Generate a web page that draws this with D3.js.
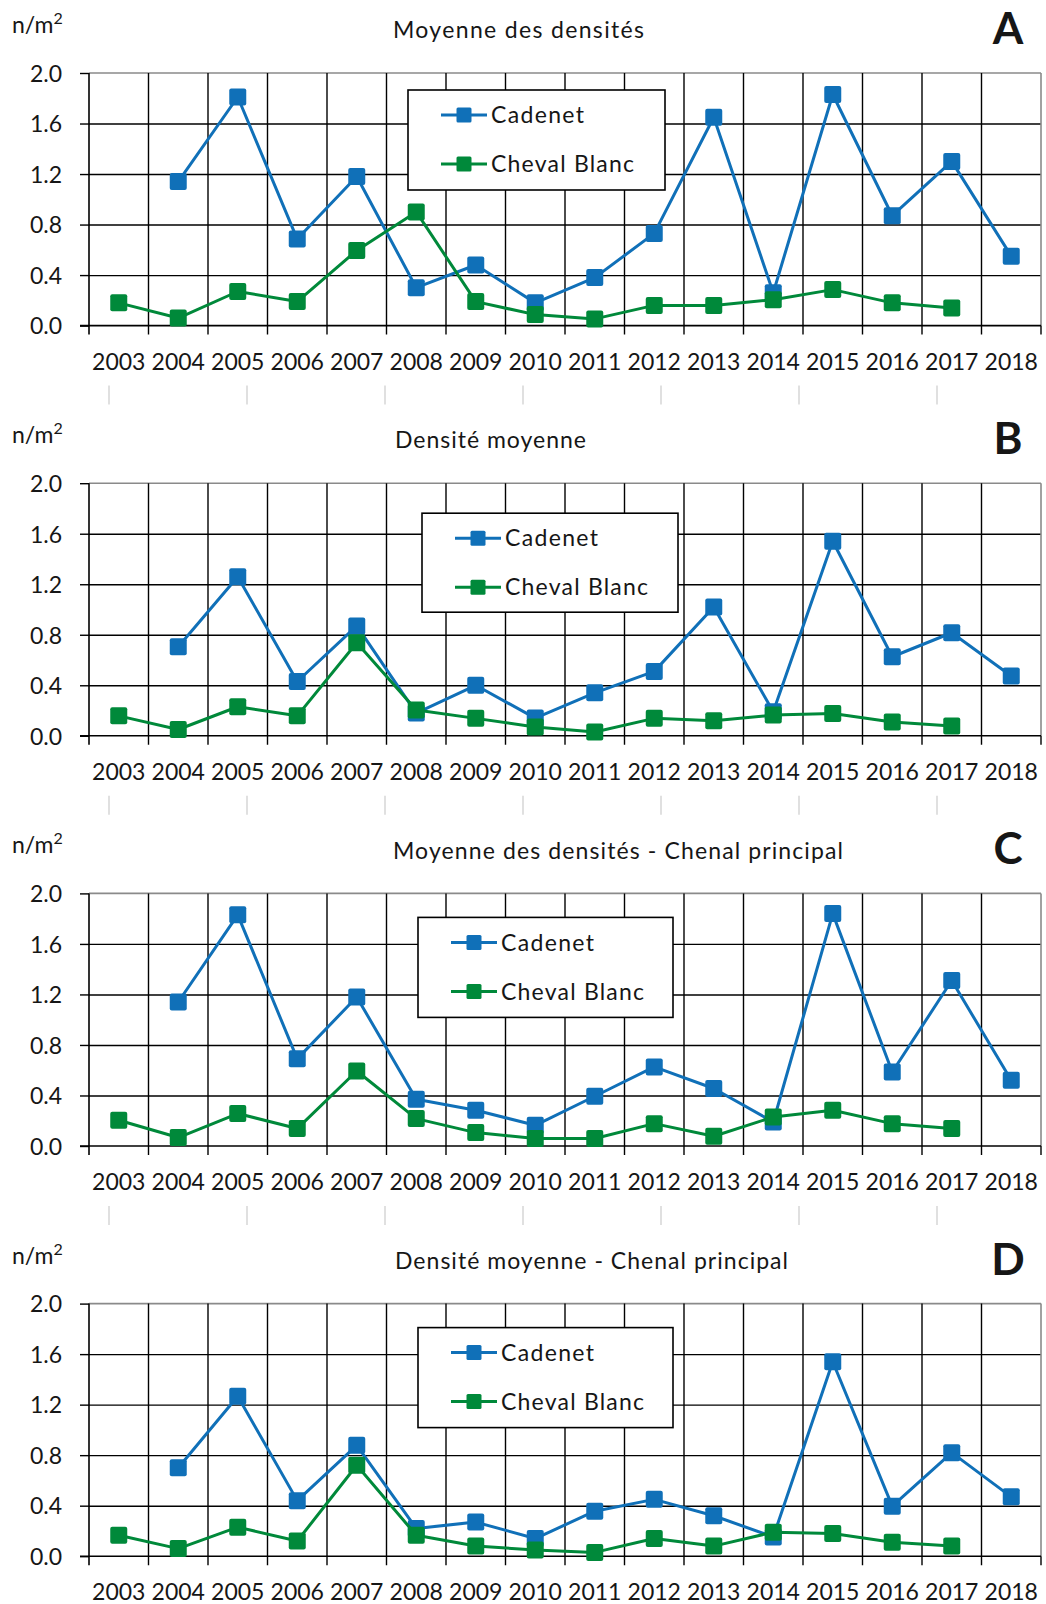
<!DOCTYPE html>
<html>
<head>
<meta charset="utf-8">
<script src="https://cdn.jsdelivr.net/npm/d3@7"></script>
<style>
  html, body { margin: 0; padding: 0; background: #fff; }
  svg { display: block; }
  text { font-family: Lato, "Open Sans", sans-serif; fill: #161616; }
</style>
</head>
<body>
<svg id="chart" width="1046" height="1604"></svg>
<script>
// Sampling years (x categories)
const years = ["2003","2004","2005","2006","2007","2008","2009","2010",
               "2011","2012","2013","2014","2015","2016","2017","2018"];

// Y axis ticks (n/m²)
const yTicks = [0, 0.4, 0.8, 1.2, 1.6, 2.0];

// Series names
const seriesNames = ["Cadenet", "Cheval Blanc"];

// A — Moyenne des densités
const cadenetA = [null, 1.14, 1.81, 0.685, 1.18, 0.30, 0.48, 0.18, 0.38, 0.73, 1.65, 0.26, 1.83, 0.87, 1.30, 0.55];
const chevalA  = [0.18, 0.06, 0.27, 0.19, 0.595, 0.90, 0.19, 0.087, 0.053, 0.16, 0.16, 0.205, 0.285, 0.18, 0.14, null];

// B — Densité moyenne
const cadenetB = [null, 0.705, 1.26, 0.43, 0.87, 0.18, 0.40, 0.14, 0.34, 0.51, 1.02, 0.19, 1.54, 0.626, 0.816, 0.473];
const chevalB  = [0.158, 0.05, 0.23, 0.158, 0.737, 0.204, 0.138, 0.07, 0.03, 0.138, 0.12, 0.164, 0.177, 0.11, 0.077, null];

// C — Moyenne des densités - Chenal principal
const cadenetC = [null, 1.14, 1.83, 0.69, 1.18, 0.37, 0.283, 0.164, 0.394, 0.626, 0.455, 0.19, 1.84, 0.586, 1.31, 0.52];
const chevalC  = [0.204, 0.067, 0.257, 0.138, 0.594, 0.217, 0.106, 0.059, 0.059, 0.177, 0.077, 0.23, 0.283, 0.177, 0.138, null];

// D — Densité moyenne - Chenal principal
const cadenetD = [null, 0.70, 1.266, 0.44, 0.878, 0.22, 0.27, 0.14, 0.356, 0.45, 0.32, 0.153, 1.54, 0.396, 0.82, 0.47];
const chevalD  = [0.166, 0.06, 0.23, 0.12, 0.72, 0.166, 0.08, 0.05, 0.03, 0.14, 0.08, 0.19, 0.18, 0.11, 0.08, null];

const panelTitles  = ["Moyenne des densités", "Densité moyenne",
                      "Moyenne des densités - Chenal principal", "Densité moyenne - Chenal principal"];
const panelLetters = ["A", "B", "C", "D"];
const panelSeries  = [[cadenetA, chevalA], [cadenetB, chevalB], [cadenetC, chevalC], [cadenetD, chevalD]];

// Layout
const colors = ["#1070b8", "#00893a"];
const plotLeft = 89, plotRight = 1041;
const plotH = 252.6;
const panelTops = [73, 483.2, 893.4, 1303.6];
const legendBoxes = [
  {x: 408, dy: 17, w: 257, h: 100},
  {x: 422, dy: 30, w: 256, h: 99},
  {x: 418, dy: 24, w: 255, h: 100},
  {x: 418, dy: 24, w: 255, h: 100}
];
const titleX = [393, 395, 393, 395];
const titleW = [251, 191, 450, 393];
const legendTextW = [93, 143];

const svg = d3.select("#chart");
svg.append("rect").attr("width", 1046).attr("height", 1604).attr("fill", "#fff");

const x = d3.scaleBand().domain(years).range([plotLeft, plotRight]).padding(0);

panelTops.forEach((top, pi) => {
  const y = d3.scaleLinear().domain([0, 2]).range([top + plotH, top]);
  const g = svg.append("g");
  const bottom = y(0);

  // horizontal gridlines (0.4 .. 1.6); the top border is drawn in gray
  const yGrid = d3.axisLeft(y).tickValues(yTicks.filter(v => v > 0 && v < 2))
    .tickSize(-(plotRight - plotLeft)).tickFormat("");
  g.append("g").attr("transform", `translate(${plotLeft},0)`).call(yGrid)
    .call(s => s.select(".domain").remove())
    .call(s => s.selectAll("line").attr("stroke", "#000").attr("stroke-width", 1.4));

  g.append("line").attr("x1", plotLeft).attr("x2", plotRight)
    .attr("y1", y(2)).attr("y2", y(2)).attr("stroke", "#8a8a8a").attr("stroke-width", 1.6);
  g.append("line").attr("x1", plotRight).attr("x2", plotRight)
    .attr("y1", y(2)).attr("y2", bottom).attr("stroke", "#8a8a8a").attr("stroke-width", 1.6);

  // vertical gridlines at band boundaries, continuing below the axis as tick marks
  const bounds = years.map(d => x(d)).concat([plotRight]);
  g.selectAll(".vgrid").data(bounds.slice(1, -1)).join("line")
    .attr("x1", d => d).attr("x2", d => d)
    .attr("y1", y(2)).attr("y2", bottom + 9)
    .attr("stroke", "#000").attr("stroke-width", 1.4);
  g.append("line").attr("x1", plotRight).attr("x2", plotRight)
    .attr("y1", bottom).attr("y2", bottom + 9).attr("stroke", "#000").attr("stroke-width", 1.4);

  // y axis with ticks and labels
  const yAxis = d3.axisLeft(y).tickValues(yTicks).tickSize(9).tickPadding(0)
    .tickFormat(d3.format(".1f"));
  const ya = g.append("g").attr("transform", `translate(${plotLeft},0)`).call(yAxis);
  ya.select(".domain").attr("stroke", "#000").attr("stroke-width", 1.6)
    .attr("d", `M0,${y(2)}V${bottom + 9}`);
  ya.selectAll(".tick line").attr("stroke", "#000").attr("stroke-width", 1.4);
  ya.selectAll(".tick text").attr("x", -27).attr("font-size", 23)
    .attr("font-family", "Lato").attr("fill", "#161616").attr("dy", "0.36em");

  // x axis line and year labels
  const xAxis = d3.axisBottom(x).tickSize(0).tickPadding(0);
  const xa = g.append("g").attr("transform", `translate(0,${bottom})`).call(xAxis);
  xa.select(".domain").attr("stroke", "#000").attr("stroke-width", 1.6)
    .attr("d", `M${plotLeft - 9},0H${plotRight}`);
  xa.selectAll(".tick text").attr("y", 36).attr("dy", "0.36em").attr("font-size", 23)
    .attr("font-family", "Lato").attr("fill", "#161616");

  // faint separators under the year labels
  if (pi < 3) {
    const seps = [109, 247, 385, 523, 661, 799, 937];
    g.selectAll(".sep").data(seps).join("line")
      .attr("x1", d => d).attr("x2", d => d)
      .attr("y1", bottom + 60).attr("y2", bottom + 79)
      .attr("stroke", "#d6d6d6").attr("stroke-width", 1.5);
  }

  // unit label, title, panel letter
  const unit = g.append("text").attr("x", 12).attr("y", top - 40).attr("font-size", 23);
  unit.append("tspan").text("n/m");
  unit.append("tspan").attr("font-size", 16).attr("dy", -9).text("2");

  g.append("text").attr("x", titleX[pi]).attr("y", top - 43).attr("dy", "0.36em")
    .attr("font-size", 23).attr("textLength", titleW[pi]).attr("lengthAdjust", "spacing")
    .text(panelTitles[pi]);

  g.append("text").attr("x", 1008).attr("y", top - 29)
    .attr("text-anchor", "middle").attr("font-size", 44).attr("font-weight", "bold")
    .attr("fill", "#000").text(panelLetters[pi]);

  // series lines and square markers
  panelSeries[pi].forEach((vals, si) => {
    const pts = years.map((yr, i) => ({yr, v: vals[i]})).filter(p => p.v !== null);
    const line = d3.line().x(p => x(p.yr) + x.bandwidth() / 2).y(p => y(p.v));
    g.append("path").datum(pts).attr("d", line).attr("fill", "none")
      .attr("stroke", colors[si]).attr("stroke-width", 3).attr("stroke-linejoin", "round");
    const m = 17;
    g.selectAll(".m" + si).data(pts).join("rect")
      .attr("x", p => x(p.yr) + x.bandwidth() / 2 - m / 2)
      .attr("y", p => y(p.v) - m / 2)
      .attr("width", m).attr("height", m).attr("rx", 2)
      .attr("fill", colors[si]);
  });

  // legend
  const lb = legendBoxes[pi];
  const lg = g.append("g").attr("transform", `translate(${lb.x},${top + lb.dy})`);
  lg.append("rect").attr("width", lb.w).attr("height", lb.h)
    .attr("fill", "#fff").attr("stroke", "#000").attr("stroke-width", 1.6);
  seriesNames.forEach((name, si) => {
    const ry = 25 + si * 49;
    lg.append("line").attr("x1", 33).attr("x2", 79).attr("y1", ry).attr("y2", ry)
      .attr("stroke", colors[si]).attr("stroke-width", 3);
    lg.append("rect").attr("x", 56 - 7.5).attr("y", ry - 7.5).attr("width", 15).attr("height", 15)
      .attr("rx", 1.5).attr("fill", colors[si]);
    lg.append("text").attr("x", 83).attr("y", ry).attr("dy", "0.36em")
      .attr("font-size", 23).attr("textLength", legendTextW[si]).attr("lengthAdjust", "spacing")
      .text(name);
  });
});
</script>
</body>
</html>
